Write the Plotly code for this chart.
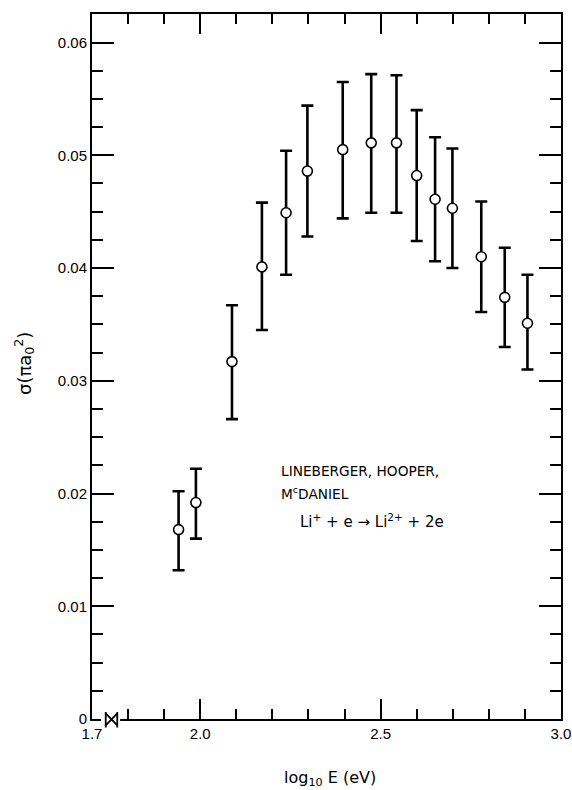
import plotly.graph_objects as go

# Ionization cross section of Li+ by electron impact
log_e = [1.940, 1.988, 2.088, 2.171, 2.238, 2.297, 2.395, 2.474, 2.544,
         2.600, 2.651, 2.699, 2.779, 2.844, 2.907]
sigma = [0.0168, 0.0192, 0.0317, 0.0401, 0.0449, 0.0486, 0.0505, 0.0511,
         0.0511, 0.0482, 0.0461, 0.0453, 0.0410, 0.0374, 0.0351]
sigma_hi = [0.0202, 0.0222, 0.0367, 0.0458, 0.0504, 0.0544, 0.0565, 0.0572,
            0.0571, 0.0540, 0.0516, 0.0506, 0.0459, 0.0418, 0.0394]
sigma_lo = [0.0132, 0.0160, 0.0266, 0.0345, 0.0394, 0.0428, 0.0444, 0.0449,
            0.0449, 0.0424, 0.0406, 0.0400, 0.0361, 0.0330, 0.0310]

x_ticks = [1.7, 2.0, 2.5, 3.0]
x_ticktext = ["1.7", "2.0", "2.5", "3.0"]
y_ticks = [0, 0.01, 0.02, 0.03, 0.04, 0.05, 0.06]
y_ticktext = ["0", "0.01", "0.02", "0.03", "0.04", "0.05", "0.06"]

err_plus = [h - s for h, s in zip(sigma_hi, sigma)]
err_minus = [s - l for s, l in zip(sigma, sigma_lo)]

NARROW = "Liberation Sans Narrow, Arial Narrow, sans-serif"
LABEL = "DejaVu Sans, sans-serif"

fig = go.Figure()
fig.add_trace(go.Scatter(
    x=log_e, y=sigma, mode="markers",
    marker=dict(symbol="circle", size=10, color="white",
                line=dict(color="black", width=1.6)),
    error_y=dict(type="data", symmetric=False, array=err_plus,
                 arrayminus=err_minus, color="black", thickness=2.6, width=6),
    showlegend=False,
))

# bottom axis break: blank out a short stretch and draw the break mark
fig.add_shape(type="rect", xref="x", yref="paper", x0=1.725, x1=1.778,
              y0=-0.006, y1=0.004, fillcolor="white", line_width=0, layer="above")
fig.add_shape(type="path", xref="x", yref="paper", layer="above",
              path="M 1.738 -0.012 L 1.738 0.010 M 1.770 -0.012 L 1.770 0.010 "
                   "M 1.738 0.008 L 1.770 -0.009 M 1.738 -0.009 L 1.770 0.008",
              line=dict(color="black", width=1.8))

notes = [
    ("LINEBERGER, HOOPER,", 0.398, 0.352),
    ("M<sup>c</sup>DANIEL", 0.398, 0.320),
]
for txt, xp, yp in notes:
    fig.add_annotation(text=txt, xref="paper", yref="paper", x=xp, y=yp,
                       xanchor="left", yanchor="middle", showarrow=False,
                       font=dict(family=LABEL, size=13.7, color="black"))
fig.add_annotation(text="Li<sup>+</sup> + e \u2192 Li<sup>2+</sup> + 2e",
                   xref="paper", yref="paper", x=0.44, y=0.281,
                   xanchor="left", yanchor="middle", showarrow=False,
                   font=dict(family=LABEL, size=15, color="black"))

fig.add_annotation(text="log<sub>10</sub> E (eV)", xref="paper", yref="paper",
                   x=0.508, y=-0.084, xanchor="center", yanchor="middle",
                   showarrow=False, font=dict(family=LABEL, size=16, color="black"))
fig.add_annotation(text="\u03c3(\u03c0a<sub>0</sub><sup>2</sup>)", xref="paper",
                   yref="paper", x=-0.145, y=0.505, xanchor="center",
                   yanchor="middle", textangle=-90, showarrow=False,
                   font=dict(family=LABEL, size=18, color="black"))

fig.update_layout(
    width=572, height=790, autosize=False,
    margin=dict(l=92, r=11, t=14, b=71, autoexpand=False),
    paper_bgcolor="white", plot_bgcolor="white",
    xaxis=dict(range=[1.7, 3.0], tickmode="array", tickvals=x_ticks,
               ticktext=x_ticktext, ticks="inside", ticklen=20, tickwidth=1.5,
               tickcolor="black", showline=True, linecolor="black", linewidth=2,
               mirror="ticks", showgrid=False, zeroline=False, automargin=False,
               tickfont=dict(family=NARROW, size=15, color="black"),
               minor=dict(tick0=1.7, dtick=0.1, ticks="inside", ticklen=10,
                          tickwidth=1.5, tickcolor="black", showgrid=False)),
    yaxis=dict(range=[0, 0.06253], tickmode="array", tickvals=y_ticks,
               ticktext=y_ticktext, ticks="inside", ticklen=22, tickwidth=1.5,
               tickcolor="black", showline=True, linecolor="black", linewidth=2,
               mirror="ticks", showgrid=False, zeroline=False, automargin=False,
               tickfont=dict(family=NARROW, size=15, color="black"),
               minor=dict(tick0=0, dtick=0.0025, ticks="inside", ticklen=11,
                          tickwidth=1.5, tickcolor="black", showgrid=False)),
)

fig.write_html("out.html")
